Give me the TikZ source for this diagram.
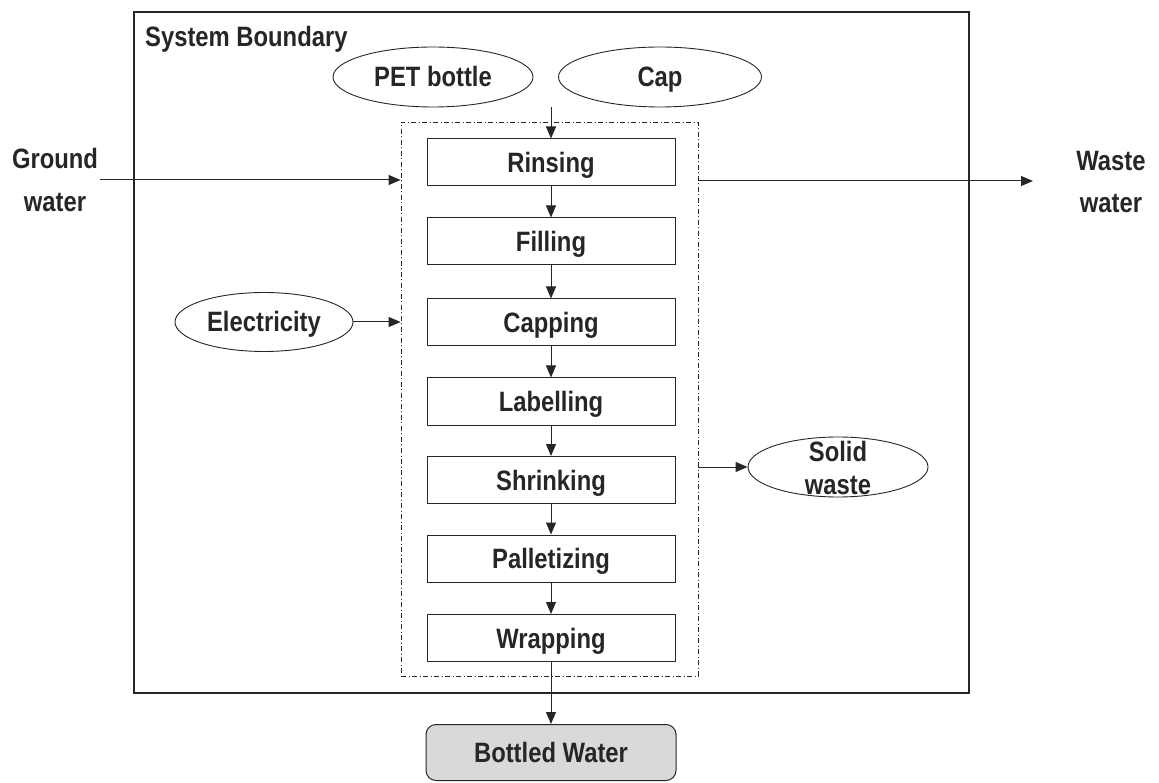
\documentclass[tikz,border=0pt]{standalone}
\usepackage{fontspec}
\setmainfont{Liberation Sans}[FakeStretch=0.85]
\usetikzlibrary{arrows.meta,shapes.geometric}
\definecolor{ink}{HTML}{262626}
\definecolor{boxgray}{HTML}{D9D9D9}
\newcommand{\labelfont}{\fontsize{28}{33}\selectfont\bfseries}
\tikzset{
  lbl/.style={font=\labelfont, text=ink, inner sep=0pt},
  oneline/.style={text height=20pt, text depth=0pt},
  stepbox/.style={draw=ink, line width=1pt, minimum width=248pt, minimum height=47pt,
    inner sep=0pt, font=\labelfont, text=ink, oneline},
  ell/.style={draw=ink, line width=0.9pt, ellipse, inner sep=0pt,
    font=\labelfont, text=ink, oneline},
  flow/.style={draw=ink, line width=1pt, -{Triangle[length=12pt,width=10pt]}},
  dashdot/.style={draw=ink, line width=0.9pt, dash pattern=on 5pt off 2.5pt on 1pt off 2.5pt}
}
\begin{document}
\begin{tikzpicture}[x=1pt,y=-1pt]
\useasboundingbox (0,0) rectangle (1159,783);

% system boundary
\node[draw=ink, line width=1.1pt, minimum width=835pt, minimum height=681pt, inner sep=0pt]
  (sys) at (551.5,352.5) {};
\node[lbl, oneline, anchor=west] (systxt) at (145,37) {System Boundary};

% process enclosure
\node[dashdot, minimum width=297pt, minimum height=554pt, inner sep=0pt] (proc) at (549.5,399) {};

% inputs
\node[ell, minimum width=200pt, minimum height=60pt] (pet) at (433,77) {PET bottle};
\node[ell, minimum width=203pt, minimum height=60pt] (cap) at (660,77) {Cap};
\node[ell, minimum width=178pt, minimum height=59pt] (elec) at (264,322) {Electricity};
\node[ell, minimum width=180pt, minimum height=60pt] (sw) at (838,467) {};
\node[lbl, align=center, font=\fontsize{28}{33}\selectfont\bfseries] (swtxt) at (838,468) {Solid\\waste};

\node[lbl, align=center, font=\fontsize{28}{43}\selectfont\bfseries] (gw) at (55,180) {Ground\\water};
\node[lbl, align=center, font=\fontsize{28}{42}\selectfont\bfseries] (ww) at (1111,182) {Waste\\water};

% process steps
\node[stepbox] (s1) at (551,162.5) {Rinsing};
\node[stepbox] (s2) at (551,241.5) {Filling};
\node[stepbox] (s3) at (551,322.5) {Capping};
\node[stepbox] (s4) at (551,401.5) {Labelling};
\node[stepbox] (s5) at (551,480) {Shrinking};
\node[stepbox] (s6) at (551,558.5) {Palletizing};
\node[stepbox] (s7) at (551,638) {Wrapping};

% product
\node[draw=ink, line width=1pt, fill=boxgray, rounded corners=10pt, minimum width=250pt,
  minimum height=56pt, inner sep=0pt, font=\labelfont, text=ink, oneline]
  (bw) at (551,752.5) {Bottled Water};

% flow connectors
\coordinate (feed) at (551,107);
\coordinate (gwin) at (100,180);
\coordinate (wwout) at (1033,181);
\draw[flow] (feed) -- (s1.north);
\draw[flow] (s1) -- (s2);
\draw[flow] (s2) -- (s3);
\draw[flow] (s3) -- (s4);
\draw[flow] (s4) -- (s5);
\draw[flow] (s5) -- (s6);
\draw[flow] (s6) -- (s7);
\draw[flow] (s7) -- (bw);
\draw[flow] (gwin) -- (gwin -| proc.west);
\draw[flow] (wwout -| proc.east) -- (wwout);
\draw[flow] (elec.east) -- (elec -| proc.west);
\draw[flow] (sw -| proc.east) -- (sw.west);
\end{tikzpicture}
\end{document}
